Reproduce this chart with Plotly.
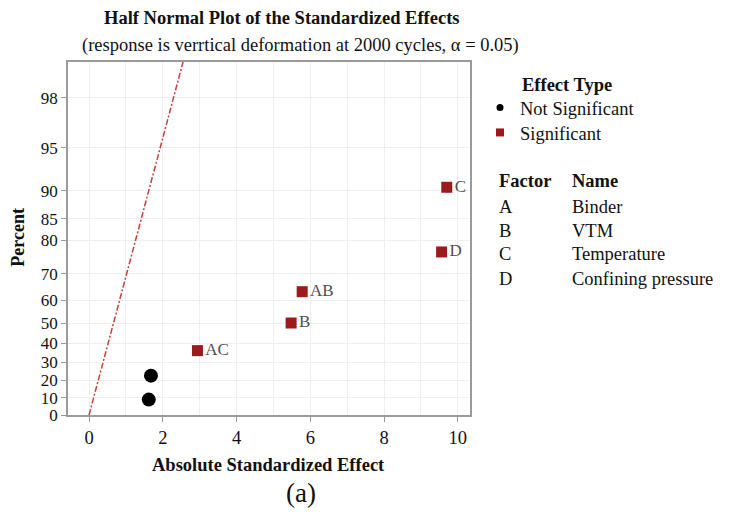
import plotly.graph_objects as go
from statistics import NormalDist

# ---- data -------------------------------------------------------------
terms = ["", "", "AC", "B", "AB", "D", "C"]
abs_effect = [1.62, 1.68, 2.94, 5.48, 5.78, 9.56, 9.70]
percent = [9.0, 22.7, 36.3, 50.0, 63.4, 76.8, 90.5]
significant = [False, False, True, True, True, True, True]

# reference line (Lenth's PSE based), x = slope * half-normal score
line_slope = 0.985
line_percent = [0.0, 99.5]

y_tick_pct = [0, 10, 20, 30, 40, 50, 60, 70, 80, 85, 90, 95, 98]
x_ticks = [0, 2, 4, 6, 8, 10]

factors = ["A", "B", "C", "D"]
factor_names = ["Binder", "VTM", "Temperature", "Confining pressure"]

# ---- helpers ----------------------------------------------------------
nd = NormalDist()


def hn_score(p):
    """Half-normal score for a cumulative percent."""
    return nd.inv_cdf(0.5 + p / 200.0) if p > 0 else 0.0


# plot area in pixels (746 x 517 page)
W, H = 746, 517
L, R, T, B = 68, 470, 62, 415.5


def px(xp):
    return (xp - L) / (R - L)


def py(yp):
    return (B - yp) / (B - T)


SERIF = "Liberation Serif, Times New Roman, serif"
RED = "#9b1b1d"
LINE_RED = "#c4403c"
TXT = "#111111"

fig = go.Figure()

# reference line
lz = [hn_score(p) for p in line_percent]
fig.add_trace(go.Scatter(
    x=[line_slope * z for z in lz], y=lz, mode="lines",
    line=dict(color=LINE_RED, width=1.5, dash="6px,2px,2px,2px"),
    showlegend=False, hoverinfo="skip"))

# effects
ns_x = [x for x, s in zip(abs_effect, significant) if not s]
ns_y = [hn_score(p) for p, s in zip(percent, significant) if not s]
sg_x = [x for x, s in zip(abs_effect, significant) if s]
sg_y = [hn_score(p) for p, s in zip(percent, significant) if s]
sg_t = [t for t, s in zip(terms, significant) if s]

fig.add_trace(go.Scatter(
    x=ns_x, y=ns_y, mode="markers",
    marker=dict(symbol="circle", size=14, color="black"),
    showlegend=False, cliponaxis=True))
fig.add_trace(go.Scatter(
    x=sg_x, y=sg_y, mode="markers+text", text=sg_t,
    textposition="middle right",
    textfont=dict(family=SERIF, size=17, color="#505050"),
    marker=dict(symbol="square", size=11, color=RED),
    showlegend=False, cliponaxis=True))

# legend entries (one legend box per entry for exact row placement)
fig.add_trace(go.Scatter(
    x=[None], y=[None], mode="markers", name="Not Significant",
    marker=dict(symbol="circle", size=7, color="black"), legend="legend"))
fig.add_trace(go.Scatter(
    x=[None], y=[None], mode="markers", name="Significant",
    marker=dict(symbol="square", size=8, color=RED), legend="legend2"))

annotations = [
    dict(text="<b>Half Normal Plot of the Standardized Effects</b>",
         x=px(282), y=py(18), font=dict(size=18.5)),
    dict(text="(response is verrtical deformation at 2000 cycles, \u03b1 = 0.05)",
         x=px(300), y=py(45), font=dict(size=18.5)),
    dict(text="<b>Percent</b>", x=px(18), y=py(238), textangle=-90,
         font=dict(size=18)),
    dict(text="<b>Absolute Standardized Effect</b>", x=px(268), y=py(466),
         font=dict(size=18.5)),
    dict(text="(a)", x=px(301), y=py(494), font=dict(size=27)),
    dict(text="<b>Effect Type</b>", x=px(520), y=py(85), xanchor="left",
         font=dict(size=18.5)),
    dict(text="<b>Factor</b>", x=px(497), y=py(181), xanchor="left",
         font=dict(size=18.5)),
    dict(text="<b>Name</b>", x=px(570), y=py(181), xanchor="left",
         font=dict(size=18.5)),
]
row_y = [207, 231, 254, 279]
for f, n, yy in zip(factors, factor_names, row_y):
    annotations.append(dict(text=f, x=px(497), y=py(yy), xanchor="left",
                            font=dict(size=18.5)))
    annotations.append(dict(text=n, x=px(570), y=py(yy), xanchor="left",
                            font=dict(size=18.5)))
for a in annotations:
    a.setdefault("xanchor", "center")
    a.update(xref="paper", yref="paper", yanchor="middle", showarrow=False)
    a["font"] = dict(family=SERIF, color=TXT, **a["font"])

axis_common = dict(
    showline=True, linecolor="#9a9a9a", linewidth=1.5, mirror=True,
    ticks="outside", ticklen=5, tickcolor="#9a9a9a",
    gridcolor="#efefef", gridwidth=1, zeroline=False,
)

legend_common = dict(
    xanchor="left", yanchor="middle",
    font=dict(family=SERIF, size=18.5, color=TXT),
    bgcolor="rgba(0,0,0,0)", borderwidth=0,
)

fig.update_layout(
    width=W, height=H,
    margin=dict(l=L, r=W - R, t=T, b=H - B),
    paper_bgcolor="white", plot_bgcolor="white",
    font=dict(family=SERIF),
    xaxis=dict(range=[-0.57, 10.33], tickvals=x_ticks,
               minor=dict(dtick=1, showgrid=True, gridcolor="#efefef",
                          ticks=""),
               tickfont=dict(family=SERIF, size=18.5, color=TXT),
               **axis_common),
    yaxis=dict(range=[0, 2.588],
               tickvals=[hn_score(p) for p in y_tick_pct],
               ticktext=[str(p) for p in y_tick_pct],
               tickfont=dict(family=SERIF, size=17, color=TXT),
               **axis_common),
    legend=dict(x=px(480), y=py(108), **legend_common),
    legend2=dict(x=px(480), y=py(133), **legend_common),
    annotations=annotations,
    showlegend=True,
)

fig.write_html("out.html")
